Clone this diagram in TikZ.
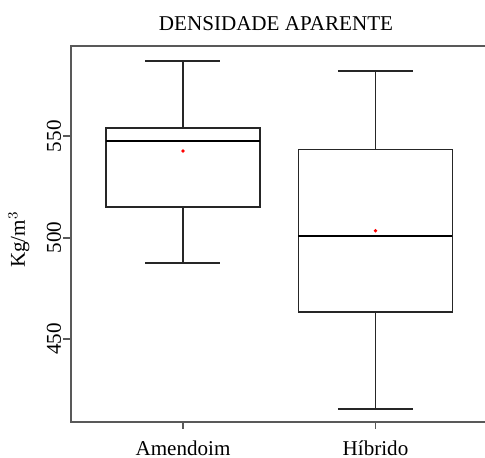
\documentclass[tikz,border=0pt]{standalone}
\usepackage{fontspec}
\setmainfont{Liberation Serif}

\begin{document}
\begin{tikzpicture}[x=0.02cm, y=0.0406cm,
  frame/.style={black!65, line width=1.1pt},
  box/.style={black!85, line width=1pt},
  med/.style={black, line width=1.6pt},
  lbl/.style={font=\fontsize{12}{14}\selectfont, inner sep=0pt}]
  \useasboundingbox (0,391.5) rectangle (485,617.1);

  % Frame and ticks
  \draw [frame] (485,594.6) -- (71,594.6) -- (71,409.4) -- (485,409.4);
  \draw [frame] (71,450) -- (63,450);
  \draw [frame] (71,500) -- (63,500);
  \draw [frame] (71,550) -- (63,550);
  \draw [frame] (183,409.4) -- (183,405.7);
  \draw [frame] (375.5,409.4) -- (375.5,405.7);

  \node [lbl, rotate=90, anchor=base] (t450) at (61,450) {450};
  \node [lbl, rotate=90, anchor=base] (t500) at (61,500) {500};
  \node [lbl, rotate=90, anchor=base] (t550) at (61,550) {550};
  \node [lbl, rotate=90, anchor=base] (ylab) at (25,499) {Kg/m$^3$};
  \node [lbl, anchor=base] (title) at (276,602.1) {DENSIDADE APARENTE};
  \node [lbl, anchor=base] (amend) at (183,392.5) {Amendoim};
  \node [lbl, anchor=base] (hibr) at (375.5,392.5) {Híbrido};

  % Amendoim
  \draw [box] (106,515) rectangle (260,553.9);
  \draw [box] (183,553.9) -- (183,587.2);
  \draw [box] (145.5,587.2) -- (220.5,587.2);
  \draw [box] (183,515) -- (183,487.5);
  \draw [box] (145.5,487.5) -- (220.5,487.5);
  \draw [med] (106,547.6) -- (260,547.6);
  \fill [red] (183,542.7) circle (1.1pt);

  % Hibrido
  \draw [box] (298.5,463.4) rectangle (452.5,543.5);
  \draw [box] (375.5,543.5) -- (375.5,582);
  \draw [box] (338,582) -- (413,582);
  \draw [box] (375.5,463.4) -- (375.5,415.6);
  \draw [box] (338,415.6) -- (413,415.6);
  \draw [med] (298.5,500.8) -- (452.5,500.8);
  \fill [red] (375.5,503.4) circle (1.1pt);

\end{tikzpicture}
\end{document}
